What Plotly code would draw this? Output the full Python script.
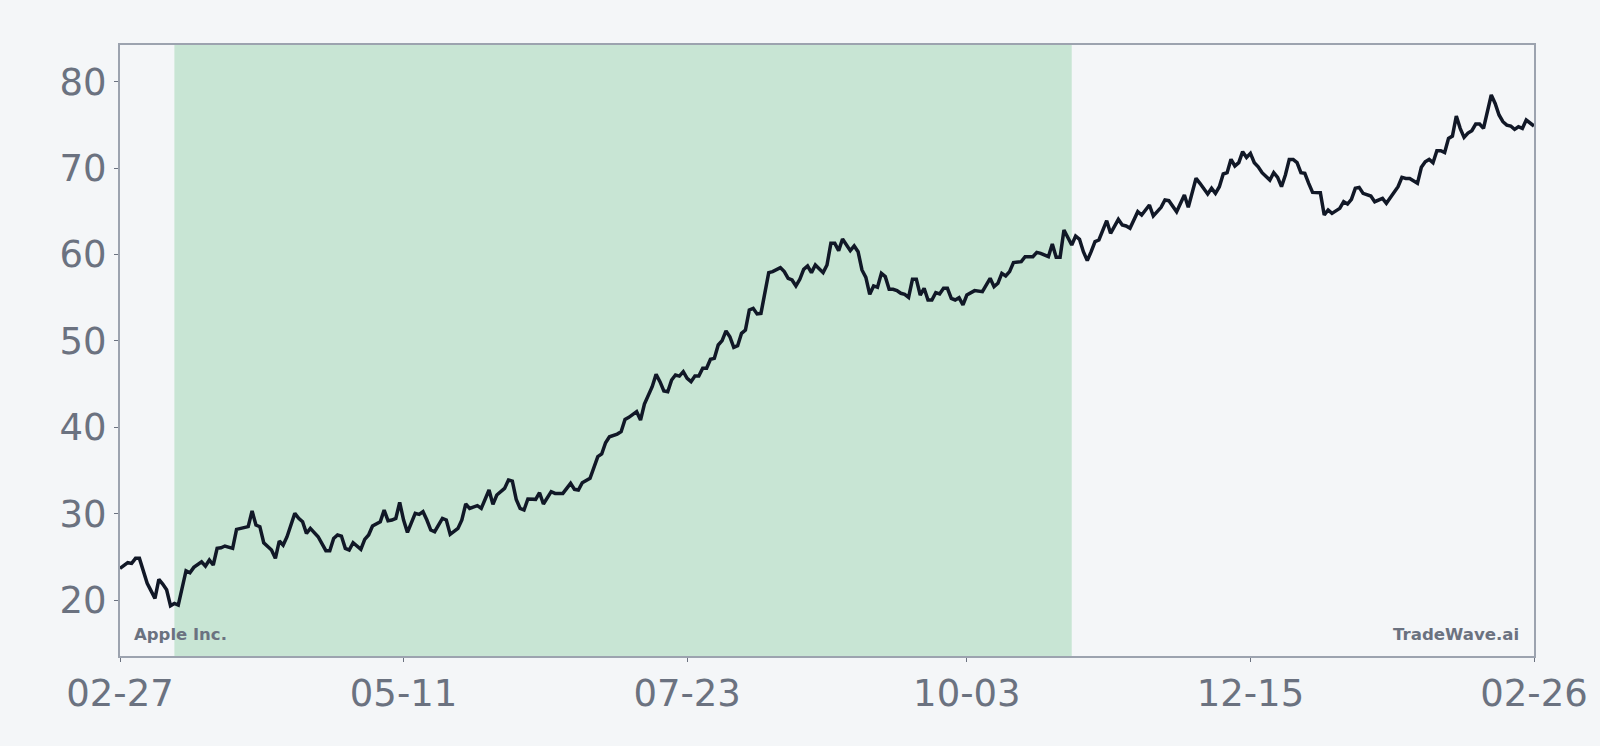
import pandas as pd
import plotly.graph_objects as go

# Apple Inc. close
start_date = "2023-02-27"
end_date = "2024-02-26"
ticker_name = "Apple Inc."
brand = "TradeWave.ai"

# trading sessions as day offsets from start_date
day_offset = [
    0, 2, 3, 4, 5, 6, 7, 9, 10, 11, 12, 13, 14, 15, 17, 18, 19, 21, 22, 23,
    24, 25, 26, 27, 29, 30, 31, 33, 34, 35, 36, 37, 39, 40, 41, 42, 43, 45, 46, 47,
    48, 49, 51, 52, 53, 54, 55, 56, 57, 58, 59, 60, 62, 63, 64, 65, 67, 68, 69, 70,
    71, 72, 73, 74, 75, 76, 77, 78, 79, 80, 81, 83, 84, 85, 87, 88, 89, 90, 92, 93,
    95, 96, 97, 99, 100, 101, 102, 103, 104, 105, 107, 108, 109, 111, 112, 114, 116, 117, 118, 119,
    121, 123, 124, 125, 126, 128, 129, 130, 131, 133, 134, 135, 137, 138, 139, 140, 141, 142, 143, 144,
    145, 146, 147, 148, 149, 150, 151, 152, 153, 154, 155, 156, 157, 158, 159, 160, 161, 162, 163, 164,
    165, 166, 167, 168, 170, 171, 172, 173, 174, 175, 176, 177, 178, 179, 180, 181, 182, 183, 184, 185,
    186, 187, 188, 189, 190, 191, 192, 193, 194, 195, 196, 197, 198, 199, 200, 201, 202, 203, 204, 205,
    206, 207, 208, 209, 210, 211, 212, 213, 214, 215, 216, 217, 218, 220, 222, 224, 225, 226, 227, 228,
    229, 230, 232, 233, 235, 236, 237, 239, 240, 241, 242, 243, 244, 245, 246, 247, 248, 249, 250, 251,
    252, 254, 255, 257, 258, 259, 260, 262, 263, 265, 266, 268, 269, 270, 272, 274, 275, 277, 278, 280,
    281, 282, 283, 284, 285, 286, 287, 288, 289, 290, 291, 292, 293, 294, 296, 297, 298, 299, 300, 301,
    302, 303, 304, 305, 306, 307, 309, 310, 311, 312, 314, 315, 316, 317, 318, 319, 320, 322, 323, 325,
    326, 328, 329, 330, 331, 332, 334, 335, 336, 337, 338, 339, 340, 341, 342, 343, 344, 345, 346, 347,
    348, 349, 350, 351, 353, 354, 355, 356, 357, 358, 359, 360, 361, 362, 363, 364,
]

close = [
    23.67, 24.33, 24.25, 24.83, 24.83, 23.29, 21.94, 20.20, 22.40, 21.86, 21.20, 19.35, 19.62, 19.43, 23.40, 23.17, 23.79, 24.44, 23.94, 24.64,
    24.06, 26.00, 26.06, 26.26, 25.99, 28.19, 28.30, 28.50, 30.31, 28.69, 28.50, 26.64, 25.80, 24.83, 26.84, 26.37, 27.34, 30.04, 29.46, 29.07,
    27.72, 28.30, 27.34, 26.57, 25.72, 25.72, 27.14, 27.53, 27.41, 25.99, 25.80, 26.64, 25.87, 27.03, 27.53, 28.57, 29.07, 30.42, 29.19, 29.27,
    29.46, 31.31, 29.27, 27.84, 28.96, 30.04, 29.92, 30.23, 29.27, 28.11, 27.92, 29.46, 29.27, 27.61, 28.30, 29.27, 31.12, 30.62, 30.93, 30.62,
    32.74, 31.08, 32.16, 32.93, 33.90, 33.78, 31.66, 30.62, 30.43, 31.70, 31.66, 32.43, 31.12, 32.55, 32.35, 32.35, 33.51, 32.82, 32.74, 33.59,
    34.09, 36.60, 36.91, 38.22, 38.91, 39.22, 39.49, 40.92, 41.15, 41.81, 40.84, 42.69, 44.70, 46.13, 45.28, 44.20, 44.12, 45.47, 46.05, 45.93,
    46.44, 45.66, 45.28, 45.94, 45.94, 46.83, 46.83, 47.87, 47.98, 49.53, 50.03, 51.15, 50.49, 49.26, 49.45, 50.88, 51.26, 53.58, 53.77, 53.12,
    53.19, 55.31, 57.90, 58.02, 58.48, 58.02, 57.24, 57.05, 56.36, 57.13, 58.29, 58.67, 57.90, 58.79, 58.40, 57.90, 58.79, 61.29, 61.29, 60.45,
    61.80, 61.18, 60.45, 60.99, 60.33, 58.21, 57.36, 55.39, 56.36, 56.20, 57.82, 57.44, 55.97, 55.97, 55.82, 55.51, 55.39, 55.04, 57.13, 57.13,
    55.31, 56.09, 54.74, 54.74, 55.59, 55.43, 56.09, 56.09, 54.93, 54.74, 55.01, 54.16, 55.31, 55.82, 55.70, 57.24, 56.28, 56.67, 57.82, 57.51,
    58.02, 59.06, 59.17, 59.75, 59.75, 60.25, 60.14, 59.75, 61.22, 59.67, 59.67, 62.84, 61.99, 61.10, 62.14, 61.76, 60.33, 59.29, 60.33, 61.49,
    61.68, 63.92, 62.45, 64.07, 63.42, 63.30, 63.03, 64.96, 64.57, 65.73, 64.46, 65.46, 66.31, 66.23, 64.96, 66.89, 65.46, 68.82, 68.24, 67.00,
    67.66, 67.08, 67.85, 69.32, 69.47, 71.02, 70.25, 70.63, 71.90, 71.24, 71.71, 70.63, 70.16, 69.47, 68.62, 69.47, 68.93, 67.85, 69.20, 71.01,
    71.01, 70.63, 69.47, 69.39, 68.24, 67.19, 67.15, 64.57, 65.15, 64.76, 65.34, 66.11, 65.84, 66.38, 67.66, 67.77, 67.08, 66.77, 66.11, 66.50,
    65.92, 67.27, 67.85, 68.93, 68.81, 68.81, 68.24, 70.09, 70.74, 71.01, 70.63, 72.02, 72.02, 71.80, 73.44, 73.71, 76.03, 74.60, 73.56, 74.05,
    74.33, 75.10, 75.10, 74.60, 78.46, 77.49, 76.15, 75.37, 74.98, 74.87, 74.48, 74.79, 74.60, 75.56, 75.25, 74.87,
]

# shaded window
highlight_start = "2023-03-13"
highlight_end = "2023-10-30"

tick_dates = ["2023-02-27", "2023-05-11", "2023-07-23", "2023-10-03", "2023-12-15", "2024-02-26"]
y_ticks = [20, 30, 40, 50, 60, 70, 80]

dates = pd.Timestamp(start_date) + pd.to_timedelta(day_offset, unit="D")

bg = "#f4f6f8"
grey = "#6b7280"

fig = go.Figure()
fig.add_trace(go.Scatter(
    x=dates,
    y=close,
    mode="lines",
    line=dict(color="#111827", width=3.5),
    hoverinfo="skip",
    showlegend=False,
))

fig.add_vrect(
    x0=highlight_start, x1=highlight_end,
    fillcolor="#c8e5d4", opacity=1, line_width=0, layer="below",
)

fig.add_annotation(
    text=f"<b>{ticker_name}</b>", xref="paper", yref="paper", x=0, y=0,
    xanchor="left", yanchor="bottom", xshift=12, yshift=10, showarrow=False,
    font=dict(family="DejaVu Sans", size=16.5, color=grey),
)
fig.add_annotation(
    text=f"<b>{brand}</b>", xref="paper", yref="paper", x=1, y=0,
    xanchor="right", yanchor="bottom", xshift=-13, yshift=10, showarrow=False,
    font=dict(family="DejaVu Sans", size=16.6, color=grey),
)

axis_style = dict(
    showgrid=False, zeroline=False,
    showline=True, linecolor="#9ca3af", linewidth=2, mirror=True,
    ticks="outside", ticklen=4, tickwidth=1, tickcolor=grey,
    tickfont=dict(family="DejaVu Sans", size=37, color=grey),
)

fig.update_xaxes(
    range=[start_date, end_date],
    tickvals=tick_dates, tickformat="%m-%d",
    **axis_style,
)
fig.update_yaxes(
    range=[13.53, 84.25],
    tickvals=y_ticks,
    **axis_style,
)

fig.update_layout(
    width=1600, height=746,
    margin=dict(l=120, r=64, t=45, b=90),
    paper_bgcolor=bg, plot_bgcolor=bg,
    font=dict(family="DejaVu Sans", color=grey),
)

# page without the default body margin, same tone as the chart
fig.write_html(
    "out.html",
    config={"displayModeBar": False},
    post_script="document.body.style.margin='0';document.body.style.background='#f4f6f8';",
)
